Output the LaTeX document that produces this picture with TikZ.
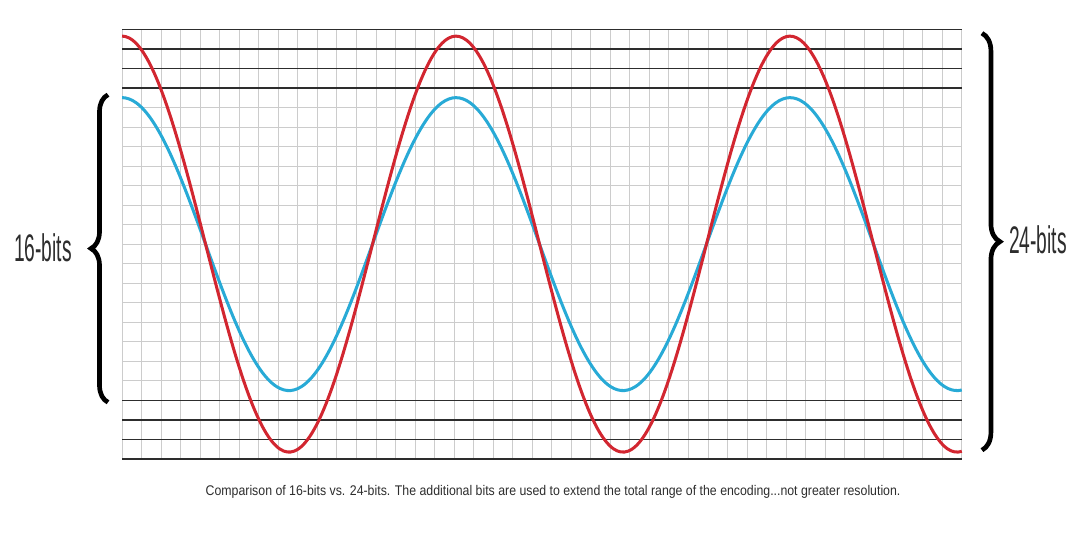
\documentclass[tikz,border=0pt]{standalone}
\usepackage{fontspec}
\setmainfont{Liberation Sans}
\newfontfamily\bitsfont[FakeStretch=0.5]{Liberation Sans}
\newfontfamily\capfont[FakeStretch=0.88]{Liberation Sans}
\usetikzlibrary{decorations.pathreplacing}
\definecolor{sigred}{RGB}{210,38,48}
\definecolor{sigblue}{RGB}{40,170,214}
\definecolor{gridgray}{RGB}{204,204,204}
\definecolor{levelgray}{RGB}{45,45,45}

\begin{document}
\begin{tikzpicture}[
				x=0.5cm, y=0.5cm,
				gridline/.style={gridgray, line width=0.6pt},
				level/.style={levelgray, line width=1.1pt},
				signal/.style={line width=2.2pt, smooth, samples=240, domain=0:43},
				bracket/.style={line width=3.4pt, decorate, decoration={brace, amplitude=#1}},
				bitlabel/.style={font=\bitsfont\fontsize{28}{30}\selectfont, text=levelgray},
			]
				\useasboundingbox (-6.25,-4.15) rectangle (49.05,23.5);

				\draw[gridline, step=1] (0,0) grid (43,22);
				\foreach \y in {0,1,2,3,19,20,21,22}
					\draw[level] (0,\y) -- (43,\y);

				\draw[signal, sigblue] plot (\x, {11+7.5*cos(360*\x/17.1)});
				\draw[signal, sigred] plot (\x, {11+10.65*cos(360*\x/17.1)});

				\path (-0.72,2.9) coordinate (b16) (-0.72,18.65) coordinate (t16);
				\path (44.03,21.8) coordinate (t24) (44.03,0.45) coordinate (b24);

				\draw[bracket=0.87cm/2] (b16) -- (t16);
				\draw[bracket=0.92cm/2] (t24) -- (b24);

				\node[bitlabel] (lbl16) at (-4.05,10.8) {16-bits};
				\node[bitlabel] (lbl24) at (46.9,11.2) {24-bits};

				\node[font=\capfont\fontsize{10.2}{12}\selectfont, text=levelgray] (caption) at (22.07,-1.69)
					{Comparison of 16-bits vs. 24-bits. The additional bits are used to extend the total range of the encoding...not greater resolution.};
			\end{tikzpicture}
\end{document}
